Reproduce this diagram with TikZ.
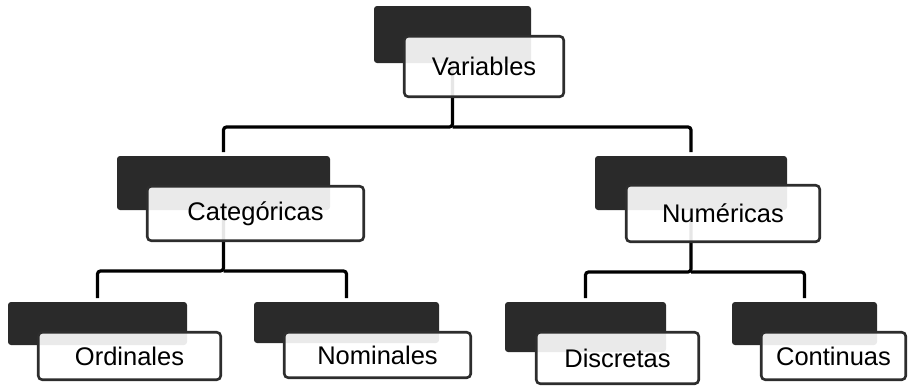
\documentclass[tikz,border=0pt]{standalone}
\usepackage{fontspec}
\setmainfont{Liberation Sans}
\definecolor{darkfill}{HTML}{2A2A2A}
\definecolor{boxline}{HTML}{2D2D2D}
\begin{document}
\begin{tikzpicture}[x=1pt,y=-1pt,
  darkbox/.style={fill=darkfill, rounded corners=3pt, inner sep=0pt, outer sep=0pt},
  lightbox/.style={draw=boxline, line width=2.6pt, fill=white, fill opacity=0.9, text opacity=1,
    rounded corners=4pt, inner sep=0pt, outer sep=0pt, font=\fontsize{25.5}{29}\selectfont},
  conn/.style={draw=black, line width=3.2pt, rounded corners=3pt, shorten >=4pt}]
\useasboundingbox (0,0) rectangle (908,386);
\coordinate (hv) at (0,127);
\coordinate (hc) at (0,271);
\coordinate (hn) at (0,272);
% dark back boxes
\node[darkbox, minimum width=157pt, minimum height=57pt] (vd) at (452.5,34.5) {};
\node[darkbox, minimum width=213pt, minimum height=54pt] (cd) at (223.5,183) {};
\node[darkbox, minimum width=192pt, minimum height=54pt] (nd) at (691,183) {};
\node[darkbox, minimum width=179pt, minimum height=43pt] (od) at (97.5,323.5) {};
\node[darkbox, minimum width=185pt, minimum height=41pt] (md) at (346.5,322.5) {};
\node[darkbox, minimum width=161pt, minimum height=50pt] (dd) at (585.5,327) {};
\node[darkbox, minimum width=145pt, minimum height=43pt] (td) at (804.5,323.5) {};
% connectors
\draw[conn] (vd.south) -- (vd.south |- hv) -| (cd.north);
\draw[conn] (vd.south |- hv) -| (nd.north);
\draw[conn] (cd.south) -- (cd.south |- hc) -| (od.north);
\draw[conn] (cd.south |- hc) -| (md.north);
\draw[conn] (nd.south) -- (nd.south |- hn) -| (dd.north);
\draw[conn] (nd.south |- hn) -| (td.north);
% light front boxes
\node[lightbox, minimum width=159.5pt, minimum height=60.5pt] (v) at (484,66.5) {Variables};
\node[lightbox, minimum width=216.5pt, minimum height=54.5pt] (c) at (255.5,213.5) {Categóricas};
\node[lightbox, minimum width=193.5pt, minimum height=56.5pt] (n) at (723,213.5) {Numéricas};
\node[lightbox, minimum width=182.5pt, minimum height=47.5pt] (o) at (129.5,356) {Ordinales};
\node[lightbox, minimum width=186.5pt, minimum height=45.5pt] (m) at (377.5,355) {Nominales};
\node[lightbox, minimum width=162.5pt, minimum height=51.5pt] (d) at (617.5,358) {Discretas};
\node[lightbox, minimum width=144.5pt, minimum height=47.5pt] (t) at (833.5,356) {Continuas};
\end{tikzpicture}
\end{document}
